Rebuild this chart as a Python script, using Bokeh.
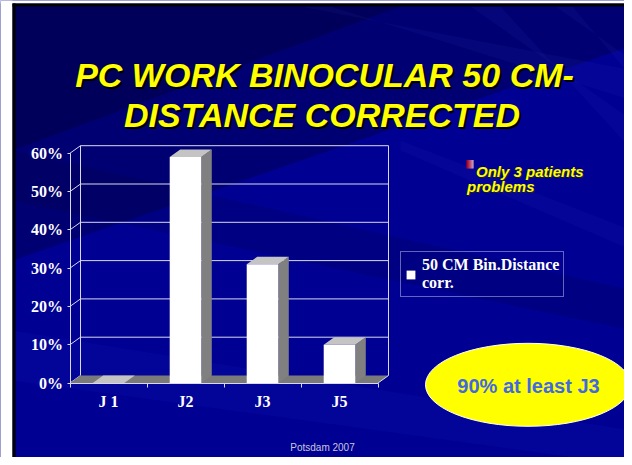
from bokeh.plotting import figure
from bokeh.models import Range1d, LinearAxis, FixedTicker, Legend, LegendItem
from bokeh.core.properties import value
from bokeh.embed import file_html
from bokeh.resources import INLINE

# ---------------- data ----------------
categories = ["J 1", "J2", "J3", "J5"]
share_pct = [0, 59, 31, 10]
y_ticks = [0, 10, 20, 30, 40, 50, 60]
y_tick_labels = ["0%", "10%", "20%", "30%", "40%", "50%", "60%"]
series_name = "50 CM Bin.Distance\ncorr."
title_lines = ["PC WORK BINOCULAR 50 CM-", "DISTANCE CORRECTED"]
note_lines = ["Only 3 patients", "problems"]
callout = "90% at least J3"
footer = "Potsdam 2007"

# ---------------- layout ----------------
W, H = 624, 457
CAT0_PX, CAT_STEP_PX = 108.0, 77.0      # x of first category, px per category
ZERO_PY, PCT_PX = 382.5, 3.83           # y of 0 %, px per percent
BAR_W = 0.41
DDX = 10.5 / CAT_STEP_PX                # 3-D depth offset (x units)
DDY = 7.5 / PCT_PX                      # 3-D depth offset (percent units)

BG = "#000092"
YELLOW = "#ffff00"
GRID = "#d8d8f0"

x_range = Range1d(-CAT0_PX / CAT_STEP_PX, (W - CAT0_PX) / CAT_STEP_PX)
y_range = Range1d(-(H - ZERO_PY) / PCT_PX, ZERO_PY / PCT_PX)

p = figure(width=W, height=H, x_range=x_range, y_range=y_range,
           x_axis_type=None, y_axis_type=None, toolbar_location=None,
           output_backend="svg", min_border=0,
           background_fill_color=BG, border_fill_color=BG,
           outline_line_color=None)
p.extra_x_ranges = {"px": Range1d(0, W)}
p.extra_y_ranges = {"py": Range1d(H, 0)}
PX = dict(x_range_name="px", y_range_name="py")

# ---------------- background ----------------
p.patch([12, 632, 632, 12], [6, 6, 45, 260], fill_color="black", fill_alpha=0.22, line_color=None, **PX)
p.patch([12, 400, 12], [6, 6, 150], fill_color="black", fill_alpha=0.2, line_color=None, **PX)
p.patch([12, 632, 632, 12], [150, 290, 330, 200], fill_color="black", fill_alpha=0.1, line_color=None, **PX)
p.patch([12, 632, 632, 12], [330, 430, 465, 380], fill_color="#3040ff", fill_alpha=0.06, line_color=None, **PX)
for xa, xb, ya, yb in [(470, 500, 120, 150), (555, 572, 60, 78), (300, 330, 70, 100)]:
    p.patch([xa, xb, 632, 632], [6, 6, yb, ya], fill_color="#6070ff", fill_alpha=0.05, line_color=None, **PX)
p.patch([400, 632, 632, 400], [140, 230, 250, 150], fill_color="#6070ff", fill_alpha=0.05, line_color=None, **PX)

# ---------------- chart: walls and floor ----------------
n = len(categories)
x_lo, x_hi = -0.5, n - 0.5
y_top = max(y_ticks)

p.multi_line([[x_lo + DDX, x_hi + DDX] for v in y_ticks[1:]],
             [[v + DDY, v + DDY] for v in y_ticks[1:]], line_color=GRID, line_width=1)
p.multi_line([[x_lo, x_lo + DDX] for v in y_ticks],
             [[v, v + DDY] for v in y_ticks], line_color=GRID, line_width=1)
p.multi_line([[x_lo + DDX, x_lo + DDX], [x_hi + DDX, x_hi + DDX]],
             [[DDY, y_top + DDY], [DDY, y_top + DDY]], line_color=GRID, line_width=1)
p.patch([x_lo, x_hi, x_hi + DDX, x_lo + DDX], [0, 0, DDY, DDY],
        fill_color="#7a7a7a", line_color=None)
p.line([x_hi, x_hi + DDX], [0, DDY], line_color=GRID, line_width=1)

# ---------------- bars (3-D) ----------------
xs = list(range(n))
side_xs, side_ys, top_xs, top_ys = [], [], [], []
for i, v in zip(xs, share_pct):
    l, r = i - BAR_W / 2, i + BAR_W / 2
    side_xs.append([r, r + DDX, r + DDX, r])
    side_ys.append([0, DDY, v + DDY, v])
    top_xs.append([l, r, r + DDX, l + DDX])
    top_ys.append([v, v, v + DDY, v + DDY])
p.patches(side_xs, side_ys, fill_color="#808080", line_color=None)
p.patches(top_xs, top_ys, fill_color="#c4c4c4", line_color=None)
front = p.quad(left=[i - BAR_W / 2 for i in xs], right=[i + BAR_W / 2 for i in xs],
               bottom=0, top=share_pct, fill_color="white", line_color=None)

# ---------------- axes ----------------
yaxis = LinearAxis(fixed_location=x_lo, bounds=(0, y_top),
                   ticker=FixedTicker(ticks=y_ticks),
                   major_label_overrides={t: s for t, s in zip(y_ticks, y_tick_labels)},
                   axis_line_color=GRID, major_tick_line_color=GRID,
                   major_tick_in=0, major_tick_out=3, minor_tick_line_color=None,
                   major_label_standoff=4,
                   major_label_text_color="white",
                   major_label_text_font="Liberation Serif",
                   major_label_text_font_style="bold",
                   major_label_text_font_size="16px")
p.add_layout(yaxis, "left")

bounds_ticks = [x_lo + k for k in range(n + 1)]
xaxis = LinearAxis(fixed_location=0, bounds=(x_lo, x_hi),
                   ticker=FixedTicker(ticks=bounds_ticks),
                   major_label_overrides={t: "" for t in bounds_ticks},
                   axis_line_color=GRID, major_tick_line_color=GRID,
                   major_tick_in=0, major_tick_out=4, minor_tick_line_color=None)
p.add_layout(xaxis, "below")

xlab = LinearAxis(fixed_location=0, ticker=FixedTicker(ticks=xs),
                  major_label_overrides={i: c for i, c in zip(xs, categories)},
                  axis_line_color=None, major_tick_line_color=None,
                  minor_tick_line_color=None,
                  major_tick_in=0, major_tick_out=0, major_label_standoff=10,
                  major_label_text_color="white",
                  major_label_text_font="Liberation Serif",
                  major_label_text_font_style="bold",
                  major_label_text_font_size="16px")
p.add_layout(xlab, "below")

# ---------------- legend ----------------
legend = Legend(items=[LegendItem(label=series_name, renderers=[front])],
                location=(400, H - 297), orientation="vertical",
                border_line_color="#c8c8f0", border_line_width=1,
                background_fill_alpha=0, padding=4, spacing=0, margin=0,
                glyph_width=11, glyph_height=11, label_standoff=6,
                label_text_color="white", label_text_font="Liberation Serif",
                label_text_font_style="bold", label_text_font_size="16px",
                label_text_line_height=1.1)
p.add_layout(legend)

# ---------------- title ----------------
tx = [324, 321.5]
ty = [74, 114]
p.text(x=[x + 2 for x in tx], y=[y + 2 for y in ty], text=title_lines, text_align="center",
       text_baseline="alphabetic", text_color="black", text_font=value("Liberation Sans"),
       text_font_style="bold italic", text_font_size="34px", **PX)
p.text(x=tx, y=ty, text=title_lines, text_align="center",
       text_baseline="alphabetic", text_color=YELLOW, text_font=value("Liberation Sans"),
       text_font_style="bold italic", text_font_size="34px", **PX)

# ---------------- note with bullet ----------------
grad = ["#d00000", "#e01818", "#ec3838", "#f45a5a", "#fa8080", "#ffa4a4", "#ffc8c8"]
p.quad(left=[466 + k for k in range(7)], right=[467 + k for k in range(7)],
       top=159.5, bottom=168, fill_color=grad, line_color=None, **PX)
nx, ny = [475.5, 466.5], [170.7, 185.5]
p.text(x=[x + 1 for x in nx], y=[y + 1 for y in ny], text=note_lines, text_baseline="alphabetic",
       text_color="#202020", text_font=value("Liberation Sans"),
       text_font_style="bold italic", text_font_size="15px", **PX)
p.text(x=nx, y=ny, text=note_lines, text_baseline="alphabetic",
       text_color=YELLOW, text_font=value("Liberation Sans"),
       text_font_style="bold italic", text_font_size="15px", **PX)

# ---------------- call-out ellipse ----------------
p.ellipse(x=[527.5], y=[384.3], width=[205], height=[83], fill_color=YELLOW,
          line_color="white", line_width=1, **PX)
p.text(x=[528], y=[385], text=[callout], text_align="center", text_baseline="middle",
       text_color="#4169e1", text_font=value("Liberation Sans"),
       text_font_style="bold", text_font_size="20px", **PX)

# ---------------- footer ----------------
p.text(x=[322], y=[447], text=[footer], text_align="center", text_baseline="middle",
       text_color="#c8c8d8", text_font=value("Liberation Sans"), text_font_size="10px", **PX)

# ---------------- slide frame ----------------
p.quad(left=[0, 0], right=[12, W], top=[0, 0], bottom=[H, 3],
       fill_color="white", line_color=None, **PX)
p.quad(left=[12, 12], right=[15, W], top=[3, 3], bottom=[H, 6],
       fill_color="black", line_color=None, **PX)

open("out.html", "w").write(file_html(p, INLINE))
